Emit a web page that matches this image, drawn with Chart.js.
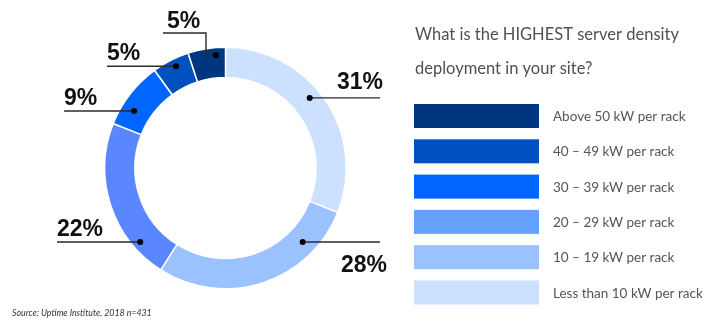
<!DOCTYPE html>
<html>
<head>
<meta charset="utf-8">
<script src="https://cdn.jsdelivr.net/npm/chart.js@4/dist/chart.umd.min.js"></script>
<style>
  html, body { margin: 0; padding: 0; background: #ffffff; }
  #wrap { width: 722px; height: 324px; position: relative; }
</style>
</head>
<body>
<div id="wrap"><canvas id="c" width="722" height="324"></canvas></div>
<script>
// ---- data ----
const categories = [
  'Less than 10 kW per rack',
  '10 – 19 kW per rack',
  '20 – 29 kW per rack',
  '30 – 39 kW per rack',
  '40 – 49 kW per rack',
  'Above 50 kW per rack'
];
const shares = [31, 28, 22, 9, 5, 5];
const questionLines = ['What is the HIGHEST server density', 'deployment in your site?'];
const sourceNote = 'Source: Uptime Institute, 2018 n=431';

// ---- style ----
const arcColors = ['#CCE0FF', '#99C2FF', '#5A86FF', '#0066FF', '#0050BF', '#00367E'];
const legendColors = ['#CCE0FF', '#99C2FF', '#64A2FF', '#0066FF', '#0050BF', '#00367E'];
// leader-line layout per slice: where the dot sits inside the slice and where the line/text go (relative to centre)
const leaderLayout = [
  { f: 0.45, rf: 0.63, kind: 'right', endDx: 154.5, textDy: -9,  align: 'right', textDx: 3 },
  { f: 0.22, rf: 0.54, kind: 'right', endDx: 154.5, textDy: 30,  align: 'right', textDx: 7 },
  { f: 0.21, rf: 0.74, kind: 'left',  endDx: -168.5, textDy: -6, align: 'left',  textDx: 0 },
  { f: 0.32, rf: 0.57, kind: 'left',  endDx: -161.5, textDy: -6, align: 'left',  textDx: 0 },
  { f: 0.56, rf: 0.75, kind: 'left',  endDx: -118.5, textDy: -6, align: 'left',  textDx: 0 },
  { f: 0.73, rf: 0.75, kind: 'elbow', elbowDx: -19.5, elbowY: 33, endDx: -62.5, textDy: -5, align: 'left', textDx: 4 }
];

const overlay = {
  id: 'overlay',
  afterDatasetsDraw(chart) {
    const ctx = chart.ctx;
    const meta = chart.getDatasetMeta(0);
    ctx.save();
    // leader lines + percentage labels
    meta.data.forEach((arc, i) => {
      const p = arc.getProps(['x', 'y', 'startAngle', 'endAngle', 'innerRadius', 'outerRadius'], true);
      const L = leaderLayout[i];
      const a = p.startAngle + L.f * (p.endAngle - p.startAngle);
      const r = p.innerRadius + L.rf * (p.outerRadius - p.innerRadius);
      const dx = p.x + r * Math.cos(a);
      const dy = p.y + r * Math.sin(a);
      ctx.strokeStyle = '#2b2b2b';
      ctx.lineWidth = 1.4;
      ctx.beginPath();
      let endX, lineY;
      if (L.kind === 'elbow') {
        const ex = p.x + L.elbowDx;
        ctx.moveTo(dx, dy);
        ctx.lineTo(ex, dy);
        ctx.lineTo(ex, L.elbowY);
        endX = p.x + L.endDx;
        ctx.lineTo(endX, L.elbowY);
        lineY = L.elbowY;
      } else {
        endX = p.x + L.endDx;
        ctx.moveTo(dx, dy);
        ctx.lineTo(endX, dy);
        lineY = dy;
      }
      ctx.stroke();
      ctx.fillStyle = '#000';
      ctx.beginPath();
      ctx.arc(dx, dy, 3, 0, Math.PI * 2);
      ctx.fill();
      ctx.font = 'bold 23px "Liberation Sans", Arial, sans-serif';
      ctx.textAlign = L.align;
      ctx.textBaseline = 'alphabetic';
      ctx.fillStyle = '#111';
      ctx.fillText(shares[i] + '%', endX + L.textDx, lineY + L.textDy);
    });

    // question
    ctx.textAlign = 'left';
    ctx.fillStyle = '#505050';
    ctx.font = '16.5px Lato, "Open Sans", sans-serif';
    questionLines.forEach((t, k) => ctx.fillText(t, 415, 40 + k * 34));

    // legend (reversed order)
    const n = categories.length;
    ctx.font = '13.5px Lato, "Open Sans", sans-serif';
    for (let k = 0; k < n; k++) {
      const i = n - 1 - k;
      const top = 104 + k * 35.3;
      ctx.fillStyle = legendColors[i];
      ctx.fillRect(414, top, 125, 24);
      ctx.fillStyle = '#555555';
      ctx.fillText(categories[i], 553, top + 17);
    }

    // source
    ctx.font = 'italic 8.8px Lato, "Open Sans", sans-serif';
    ctx.fillStyle = '#333333';
    ctx.fillText(sourceNote, 12, 316);
    ctx.restore();
  }
};

new Chart(document.getElementById('c'), {
  type: 'doughnut',
  data: {
    labels: categories,
    datasets: [{
      data: shares,
      backgroundColor: arcColors,
      borderColor: '#ffffff',
      borderWidth: 1.5,
      hoverOffset: 0
    }]
  },
  options: {
    responsive: false,
    animation: false,
    devicePixelRatio: 1,
    cutout: '75%',
    layout: { padding: { left: 104, right: 375, top: 46, bottom: 34 } },
    plugins: {
      legend: { display: false },
      tooltip: { enabled: false },
      title: { display: false }
    }
  },
  plugins: [overlay]
});
</script>
</body>
</html>
